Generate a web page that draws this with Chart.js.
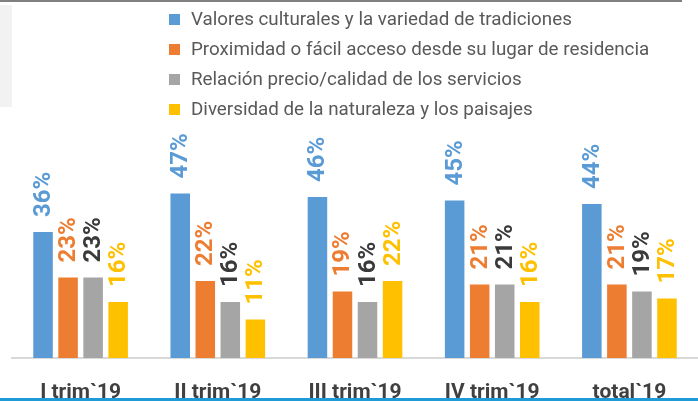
<!DOCTYPE html>
<html>
<head>
<meta charset="utf-8">
<script src="https://cdn.jsdelivr.net/npm/chart.js@4"></script>
<style>
  body { margin: 0; background: #fff; }
  #wrap { position: relative; width: 698px; height: 401px; overflow: hidden; }
  #topLine { position: absolute; left: 0; top: 0; width: 682px; height: 2px; background: #808080; }
  #sideBox { position: absolute; left: 0; top: 5px; width: 12px; height: 102px; background: #f2f2f2; }
  #bottomBand { position: absolute; left: 0; top: 398px; width: 698px; height: 3px; background: #1f9bd7; }
  #legend { position: absolute; left: 169px; top: 4px; font-family: Roboto, sans-serif; font-size: 18.8px; color: #595959; }
  .row { position: relative; height: 30px; line-height: 30px; padding-left: 22px; white-space: nowrap; }
  .box { position: absolute; left: 0; top: 9.5px; width: 11px; height: 11px; }
</style>
</head>
<body>
<div id="wrap">
  <canvas id="chart" width="698" height="401"></canvas>
  <div id="topLine"></div>
  <div id="sideBox"></div>
  <div id="bottomBand"></div>
  <div id="legend"></div>
</div>
<script>
// Data
const categories = ['I trim`19', 'II trim`19', 'III trim`19', 'IV trim`19', 'total`19'];
const seriesNames = [
    'Valores culturales y la variedad de tradiciones',
    'Proximidad o fácil acceso desde su lugar de residencia',
    'Relación precio/calidad de los servicios',
    'Diversidad de la naturaleza y los paisajes'
];
const culturales = [36, 47, 46, 45, 44];
const proximidad = [23, 22, 19, 21, 21];
const precioCalidad = [23, 16, 16, 21, 19];
const naturaleza = [16, 11, 22, 16, 17];

const barColors = ['#5b9bd5', '#ed7d31', '#a5a5a5', '#ffc000'];
const labelColors = ['#5b9bd5', '#ed7d31', '#3a3a3a', '#ffc000'];

// Value labels, rotated, above each bar
const barLabels = {
    id: 'barLabels',
    afterDatasetsDraw(chart) {
        const ctx = chart.ctx;
        ctx.save();
        ctx.font = 'bold 24px Roboto';
        ctx.textAlign = 'left';
        ctx.textBaseline = 'middle';
        chart.data.datasets.forEach((ds, i) => {
            const meta = chart.getDatasetMeta(i);
            ctx.fillStyle = labelColors[i];
            meta.data.forEach((bar, j) => {
                ctx.save();
                ctx.translate(bar.x + 1, bar.y - 15);
                ctx.rotate(-Math.PI / 2);
                ctx.fillText(ds.data[j] + '%', 0, 0);
                ctx.restore();
            });
        });
        ctx.restore();
    }
};

const chart = new Chart(document.getElementById('chart').getContext('2d'), {
    type: 'bar',
    data: {
        labels: categories,
        datasets: [culturales, proximidad, precioCalidad, naturaleza].map((d, i) => ({
            label: seriesNames[i],
            data: d,
            backgroundColor: barColors[i],
            categoryPercentage: 0.73,
            barPercentage: 0.78
        }))
    },
    options: {
        responsive: false,
        animation: false,
        layout: { padding: { top: 183, left: 12, right: 0, bottom: 0 } },
        plugins: {
            legend: { display: false },
            tooltip: { enabled: false }
        },
        scales: {
            x: {
                grid: { display: false, drawTicks: false },
                border: { display: true, color: '#d9d9d9', width: 2 },
                ticks: {
                    padding: 22,
                    color: '#404040',
                    font: { family: 'Roboto', size: 21, weight: 'bold' }
                },
                afterFit(scale) { scale.height = 43; }
            },
            y: { display: false, min: 0, max: 50 }
        }
    },
    plugins: [barLabels]
});

// Legend
const legendEl = document.getElementById('legend');
legendEl.innerHTML = chart.data.datasets.map(ds =>
    `<div class="row"><span class="box" style="background:${ds.backgroundColor}"></span>${ds.label}</div>`
).join('');
</script>
</body>
</html>
